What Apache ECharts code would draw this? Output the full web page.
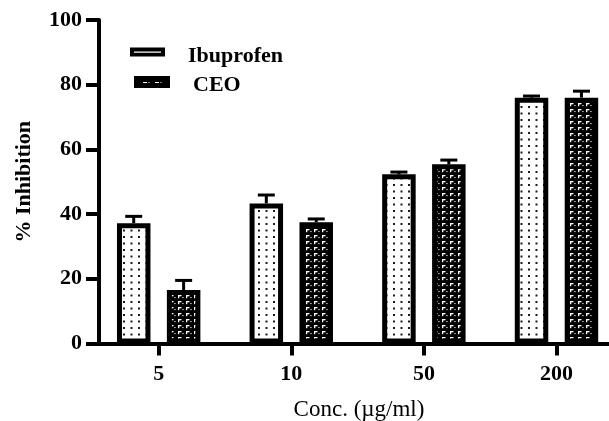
<!DOCTYPE html>
<html>
<head>
<meta charset="utf-8">
<script src="https://cdn.jsdelivr.net/npm/echarts@6/dist/echarts.min.js"></script>
<style>
  html, body { margin: 0; padding: 0; background: #fff; }
  #chart { width: 609px; height: 421px; }
</style>
</head>
<body>
<div id="chart"></div>
<script>
// Concentrations (µg/ml) and % inhibition, mean ± error
const categories = ['5', '10', '50', '200'];
const ibuprofen = [37.2, 43.3, 52.3, 76.0];
const ibuprofenErr = [2.1, 2.6, 0.7, 0.5];
const ceo = [16.5, 37.5, 55.4, 76.0];
const ceoErr = [3.0, 1.0, 1.3, 2.0];
const seriesNames = ['Ibuprofen', 'CEO'];

const FONT = '"Liberation Serif", "Times New Roman", serif';
const BAR_W = 33.5;
const BAR_GAP = 0.49;
const SHIFT = (BAR_W + BAR_W * BAR_GAP) / 2;

// Fill textures: dotted white and black with light hooks
function dotTile() {
  const c = document.createElement('canvas');
  c.width = 15; c.height = 13;
  const g = c.getContext('2d');
  g.fillStyle = '#fff'; g.fillRect(0, 0, 15, 13);
  g.fillStyle = '#1a1a1a';
  [[3, 2], [10.5, 2], [3, 8.5], [10.5, 8.5]].forEach(([x, y]) => g.fillRect(x, y, 2, 2));
  return c;
}
function hookTile() {
  const c = document.createElement('canvas');
  c.width = 8; c.height = 6;
  const g = c.getContext('2d');
  g.fillStyle = '#000'; g.fillRect(0, 0, 8, 6);
  g.fillStyle = '#fff';
  g.fillRect(2, 1, 3.5, 1.3);
  g.fillRect(2, 1, 1.3, 3.2);
  g.fillRect(6.4, 3, 1.1, 1.1);
  return c;
}
const dotFill = { image: dotTile(), repeat: 'repeat' };
const hookFill = { image: hookTile(), repeat: 'repeat' };

// Legend keys: black frames with light openings; the zero-area tail at the
// bottom of each path lifts the frame a little above the label's midline.
const ibuIcon = 'path://M0,0H35V9H0Z M4,4V5.2H31V4Z M0,17L0.01,17Z';
const ceoIcon = 'path://M0,0H36V12H0Z M9,6V7H13V6Z M14.5,6V7H15.5V6Z M21,6V7H25V6Z M26.5,6V7H27.5V6Z M0,18L0.01,18Z';

const toPoints = (vals) => vals.map((v, i) => [i, v]);
const toErr = (vals, errs) => vals.map((v, i) => [i, v, errs[i]]);

function errorBars(shift) {
  return function (params, api) {
    const x = api.value(0), y = api.value(1), e = api.value(2);
    const base = api.coord([x, y]);
    const top = api.coord([x, y + e]);
    const cx = base[0] + shift;
    const style = { stroke: '#000', lineWidth: 3 };
    return {
      type: 'group',
      children: [
        { type: 'line', shape: { x1: cx, y1: base[1], x2: cx, y2: top[1] }, style },
        { type: 'line', shape: { x1: cx - 8.5, y1: top[1], x2: cx + 8.5, y2: top[1] }, style }
      ]
    };
  };
}

const chart = echarts.init(document.getElementById('chart'), null, { renderer: 'canvas' });
chart.setOption({
  animation: false,
  backgroundColor: '#fff',
  grid: { left: 99, right: 0, top: 20, bottom: 77.5, outerBoundsMode: 'none', containLabel: false },
  legend: [
    {
      data: [{ name: seriesNames[0], icon: ibuIcon, itemStyle: { color: '#000', borderWidth: 0 } }],
      left: 130, top: 45, padding: 0,
      itemWidth: 35, itemHeight: 17,
      textStyle: { fontFamily: FONT, fontWeight: 'bold', fontSize: 22, color: '#000', padding: [0, 0, 0, 18] }
    },
    {
      data: [{ name: seriesNames[1], icon: ceoIcon, itemStyle: { color: '#000', borderWidth: 0 } }],
      left: 134, top: 74, padding: 0,
      itemWidth: 36, itemHeight: 18,
      textStyle: { fontFamily: FONT, fontWeight: 'bold', fontSize: 22, color: '#000', padding: [0, 0, 0, 18] }
    }
  ],
  xAxis: {
    type: 'value',
    min: -0.45, max: 3.396,
    splitLine: { show: false },
    axisLine: { lineStyle: { color: '#000', width: 4 } },
    axisTick: { customValues: [0, 1, 2, 3], length: 12, lineStyle: { color: '#000', width: 4 } },
    axisLabel: {
      customValues: [0, 1, 2, 3],
      formatter: (v) => categories[Math.round(v)],
      margin: 20, color: '#000', fontFamily: FONT, fontWeight: 'bold', fontSize: 22
    },
    name: 'Conc. (µg/ml)',
    nameLocation: 'middle', nameGap: 55,
    nameTextStyle: { color: '#000', fontFamily: FONT, fontSize: 23, padding: [0, 0, 0, 10] }
  },
  yAxis: {
    type: 'value',
    min: 0, max: 100, interval: 20,
    splitLine: { show: false },
    axisLine: { show: true, onZero: false, lineStyle: { color: '#000', width: 4 } },
    axisTick: { show: true, length: 13, lineStyle: { color: '#000', width: 4 } },
    axisLabel: { margin: 17, color: '#000', fontFamily: FONT, fontWeight: 'bold', fontSize: 22 },
    name: '% Inhibition',
    nameLocation: 'middle', nameGap: 64,
    nameTextStyle: { color: '#000', fontFamily: FONT, fontWeight: 'bold', fontSize: 22 }
  },
  series: [
    {
      type: 'bar', name: seriesNames[0], data: toPoints(ibuprofen),
      barWidth: BAR_W, barGap: (BAR_GAP * 100) + '%',
      itemStyle: { color: dotFill, borderColor: '#000', borderWidth: 5 }
    },
    {
      type: 'bar', name: seriesNames[1], data: toPoints(ceo),
      barWidth: BAR_W, barGap: (BAR_GAP * 100) + '%',
      itemStyle: { color: hookFill, borderColor: '#000', borderWidth: 5 }
    },
    {
      type: 'custom', name: 'ibuErr', data: toErr(ibuprofen, ibuprofenErr),
      renderItem: errorBars(-SHIFT), encode: { x: 0, y: 1 }, z: 3, clip: false
    },
    {
      type: 'custom', name: 'ceoErr', data: toErr(ceo, ceoErr),
      renderItem: errorBars(SHIFT), encode: { x: 0, y: 1 }, z: 3, clip: false
    }
  ]
});
</script>
</body>
</html>
